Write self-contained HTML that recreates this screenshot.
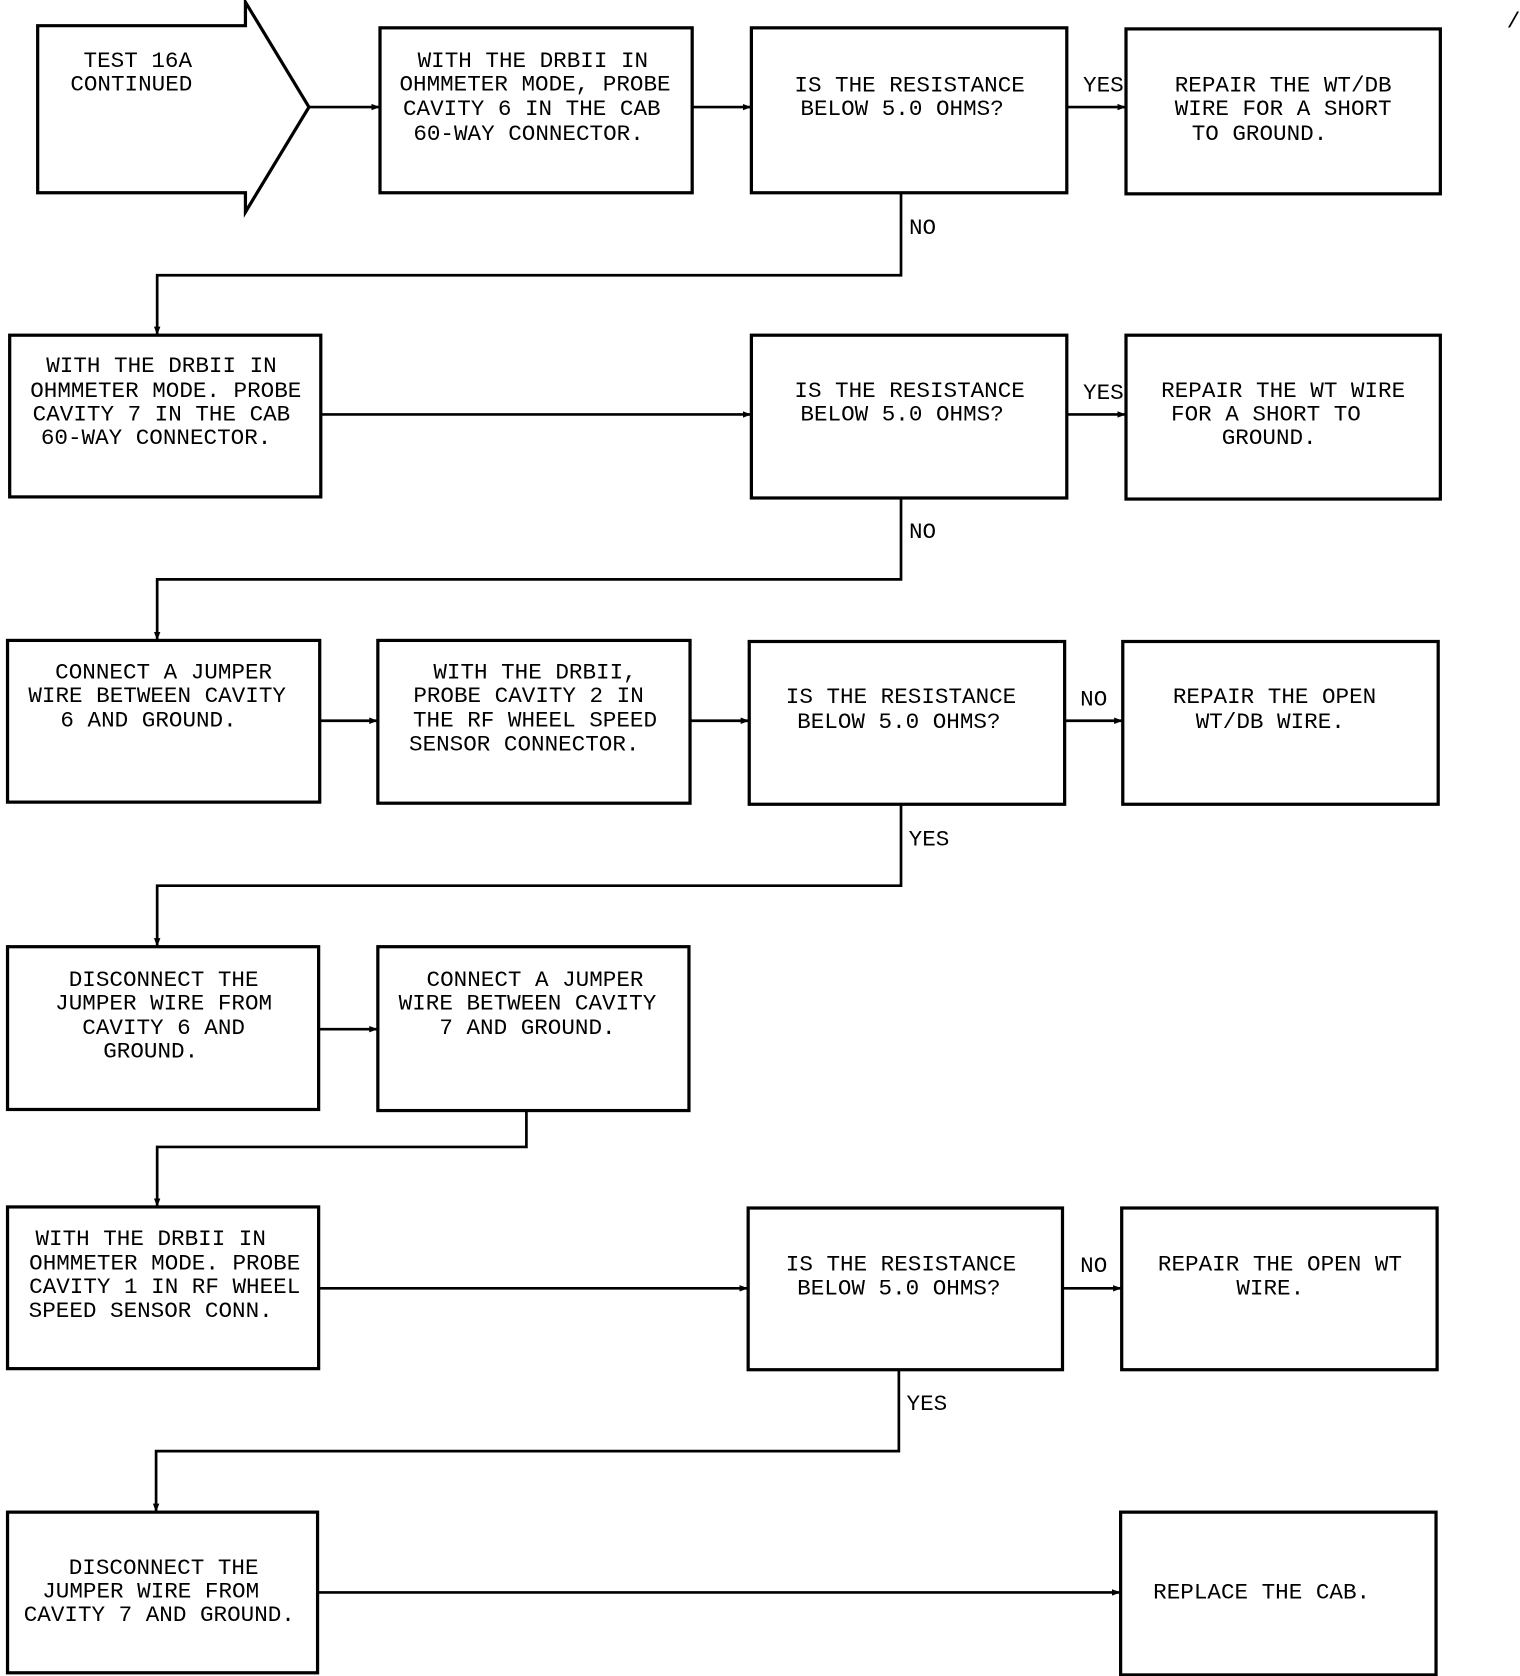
<!DOCTYPE html>
<html><head><meta charset="utf-8"><style>
html,body{margin:0;padding:0;background:#fff;}
svg{display:block;}
text{font-family:"Liberation Mono",monospace;font-size:21px;fill:#000;}
</style></head><body>
<svg width="1520" height="1676" viewBox="0 0 1412 1565" preserveAspectRatio="none" xmlns="http://www.w3.org/2000/svg">
<defs><marker id="a" markerWidth="8" markerHeight="8" refX="7" refY="4" orient="auto" markerUnits="userSpaceOnUse"><path d="M0,1 L8,4 L0,7 Z" fill="#000"/></marker></defs>
<g fill="none" stroke="#000" stroke-width="3">
<path d="M35,24 H228 V2 L287,100 L228,198 V180 H35 Z"/>
<rect x="353" y="26" width="290" height="154"/>
<rect x="698" y="26" width="293" height="154"/>
<rect x="1046" y="27" width="292" height="154"/>
<rect x="9" y="313" width="289" height="151"/>
<rect x="698" y="313" width="293" height="152"/>
<rect x="1046" y="313" width="292" height="153"/>
<rect x="7" y="598" width="290" height="151"/>
<rect x="351" y="598" width="290" height="152"/>
<rect x="696" y="599" width="293" height="152"/>
<rect x="1043" y="599" width="293" height="152"/>
<rect x="7" y="884" width="289" height="152"/>
<rect x="351" y="884" width="289" height="153"/>
<rect x="7" y="1127" width="289" height="151"/>
<rect x="695" y="1128" width="292" height="151"/>
<rect x="1042" y="1128" width="293" height="151"/>
<rect x="7" y="1412" width="288" height="150"/>
<rect x="1041" y="1412" width="293" height="152"/>
</g>
<g fill="none" stroke="#000" stroke-width="2.5" marker-end="url(#a)">
<path d="M287,100 H352"/>
<path d="M643,100 H697"/>
<path d="M991,100 H1045"/>
<path d="M837,180 V257 H146 V312"/>
<path d="M298,387 H697"/>
<path d="M991,387 H1045"/>
<path d="M837,465 V541 H146 V597"/>
<path d="M297,673 H350"/>
<path d="M641,673 H695"/>
<path d="M989,673 H1042"/>
<path d="M837,751 V827 H146 V883"/>
<path d="M296,961 H350"/>
<path d="M489,1037 V1071 H146 V1126"/>
<path d="M296,1203 H694"/>
<path d="M987,1203 H1041"/>
<path d="M835,1279 V1355 H145 V1411"/>
<path d="M295,1487 H1040"/>
</g>
<g text-anchor="middle" dominant-baseline="central">
<text x="128" y="57">TEST 16A</text><text x="122" y="79">CONTINUED</text>
<text x="495" y="57">WITH THE DRBII IN</text><text x="497" y="79">OHMMETER MODE, PROBE</text><text x="494" y="102">CAVITY 6 IN THE CAB</text><text x="491" y="125">60-WAY CONNECTOR.</text>
<text x="845" y="80">IS THE RESISTANCE</text><text x="838" y="102">BELOW 5.0 OHMS?</text>
<text x="1192" y="80">REPAIR THE WT/DB</text><text x="1192" y="102">WIRE FOR A SHORT</text><text x="1170" y="125">TO GROUND.</text>
<text x="1025" y="80">YES</text>
<text x="857" y="213">NO</text>
<text x="150" y="342">WITH THE DRBII IN</text><text x="154" y="365">OHMMETER MODE. PROBE</text><text x="150" y="387">CAVITY 7 IN THE CAB</text><text x="145" y="409">60-WAY CONNECTOR.</text>
<text x="845" y="365">IS THE RESISTANCE</text><text x="838" y="387">BELOW 5.0 OHMS?</text>
<text x="1192" y="365">REPAIR THE WT WIRE</text><text x="1176" y="387">FOR A SHORT TO</text><text x="1179" y="409">GROUND.</text>
<text x="1025" y="367">YES</text>
<text x="857" y="497">NO</text>
<text x="152" y="628">CONNECT A JUMPER</text><text x="146" y="650">WIRE BETWEEN CAVITY</text><text x="138" y="673">6 AND GROUND.</text>
<text x="497" y="628">WITH THE DRBII,</text><text x="491" y="650">PROBE CAVITY 2 IN</text><text x="497" y="673">THE RF WHEEL SPEED</text><text x="487" y="695">SENSOR CONNECTOR.</text>
<text x="837" y="651">IS THE RESISTANCE</text><text x="835" y="674">BELOW 5.0 OHMS?</text>
<text x="1184" y="651">REPAIR THE OPEN</text><text x="1180" y="674">WT/DB WIRE.</text>
<text x="1016" y="653">NO</text>
<text x="863" y="784">YES</text>
<text x="152" y="915">DISCONNECT THE</text><text x="152" y="937">JUMPER WIRE FROM</text><text x="152" y="960">CAVITY 6 AND</text><text x="140" y="982">GROUND.</text>
<text x="497" y="915">CONNECT A JUMPER</text><text x="490" y="937">WIRE BETWEEN CAVITY</text><text x="490" y="960">7 AND GROUND.</text>
<text x="140" y="1157">WITH THE DRBII IN</text><text x="153" y="1180">OHMMETER MODE. PROBE</text><text x="153" y="1202">CAVITY 1 IN RF WHEEL</text><text x="140" y="1224">SPEED SENSOR CONN.</text>
<text x="837" y="1181">IS THE RESISTANCE</text><text x="835" y="1203">BELOW 5.0 OHMS?</text>
<text x="1189" y="1181">REPAIR THE OPEN WT</text><text x="1180" y="1203">WIRE.</text>
<text x="1016" y="1182">NO</text>
<text x="861" y="1311">YES</text>
<text x="152" y="1464">DISCONNECT THE</text><text x="140" y="1486">JUMPER WIRE FROM</text><text x="148" y="1508">CAVITY 7 AND GROUND.</text>
<text x="1172" y="1487">REPLACE THE CAB.</text>
<text x="1406" y="20" font-size="14">/</text>
</g>
</svg>
</body></html>
